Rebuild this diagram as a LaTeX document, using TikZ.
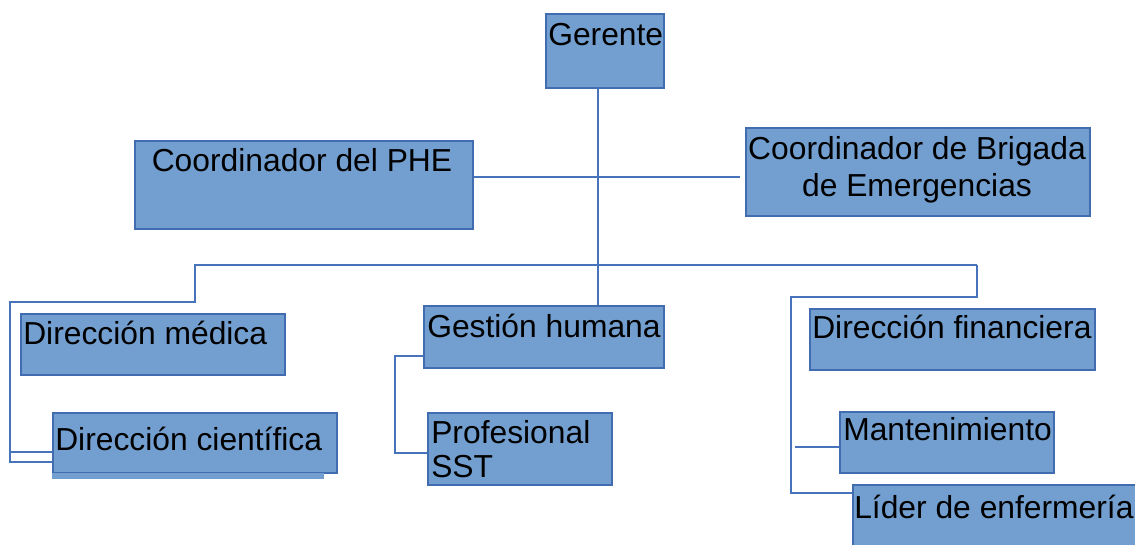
\documentclass[tikz,border=0pt]{standalone}
\usepackage{fontspec}
\setmainfont{Liberation Sans}
\definecolor{bxfill}{RGB}{114,159,207}
\definecolor{bxline}{RGB}{65,108,175}
\definecolor{cnline}{RGB}{70,115,185}
\tikzset{
  box/.style={draw=bxline, fill=bxfill, line width=1.4pt, inner sep=0pt, anchor=north west},
  txt/.style={inner sep=0pt, font=\fontsize{23.85}{25.5}\selectfont, text=black},
  conn/.style={draw=cnline, line width=1.4pt}
}
\newcommand\mybox[5]{\node[box, minimum width=#4*0.75pt, minimum height=#5*0.75pt] (#1) at (#2,#3) {};}
\begin{document}
\begin{tikzpicture}[x=0.75pt,y=-0.75pt]
\useasboundingbox (0,0) rectangle (1135,544);
\clip (0,0) rectangle (1135,544);
% boxes
\mybox{ger}{545}{13}{118}{74}
\mybox{phe}{134}{140}{338}{88}
\mybox{bri}{745}{127}{344}{88}
\mybox{dm}{20}{313}{264}{61}
\mybox{dc}{52}{412}{284}{60}
\mybox{gh}{423}{305}{240}{62}
\mybox{pro}{427}{412}{184}{72}
\mybox{df}{809}{308}{285}{61}
\mybox{man}{839}{411}{214}{61}
\mybox{lid}{852}{484}{292}{70}
\fill[bxfill] (52,473) rectangle (324,479);
% connector coordinates
\coordinate (trunk) at (598,87);
\coordinate (hb) at (740,177);
\coordinate (L0) at (195,265);
\coordinate (L1) at (195,302);
\coordinate (L2) at (10,302);
\coordinate (L3) at (10,462);
\coordinate (L4) at (10,452);
\coordinate (R0) at (977,265);
\coordinate (R1) at (977,297);
\coordinate (R2) at (791,297);
\coordinate (R3) at (791,493);
\coordinate (R4) at (795,447);
\coordinate (M0) at (395,356);
\coordinate (M1) at (395,453);
% connectors
\draw[conn] (trunk) -- (trunk |- gh.north);
\draw[conn] (phe.east |- hb) -- (hb);
\draw[conn] (R0) -- (L0) -- (L1) -- (L2) -- (L3) -- (L3 -| dc.west);
\draw[conn] (L4) -- (L4 -| dc.west);
\draw[conn] (R0) -- (R1) -- (R2) -- (R3) -- (R3 -| lid.west);
\draw[conn] (R4) -- (R4 -| man.west);
\draw[conn] (M0 -| gh.west) -- (M0) -- (M1) -- (M1 -| pro.west);
% texts
\node[txt, anchor=base west] (tger) at (548,45) {Gerente};
\node[txt, anchor=base] (tphe) at (302,171) {Coordinador del PHE};
\node[txt, anchor=north, align=center, font=\fontsize{23.85}{27.6}\selectfont] (tbri) at (917,136) {Coordinador de Brigada\\de Emergencias};
\node[txt, anchor=base west] (tdm) at (23,344) {Dirección médica};
\node[txt, anchor=base west] (tdc) at (55,450) {Dirección científica};
\node[txt, anchor=base west] (tgh) at (427,337) {Gestión humana};
\node[txt, anchor=north west, align=left] (tpro) at (431,420) {Profesional\\SST};
\node[txt, anchor=base west] (tdf) at (812,338) {Dirección financiera};
\node[txt, anchor=base west] (tman) at (843,440) {Mantenimiento};
\node[txt, anchor=base west] (tlid) at (854,518) {Líder de enfermería};
\end{tikzpicture}
\end{document}
